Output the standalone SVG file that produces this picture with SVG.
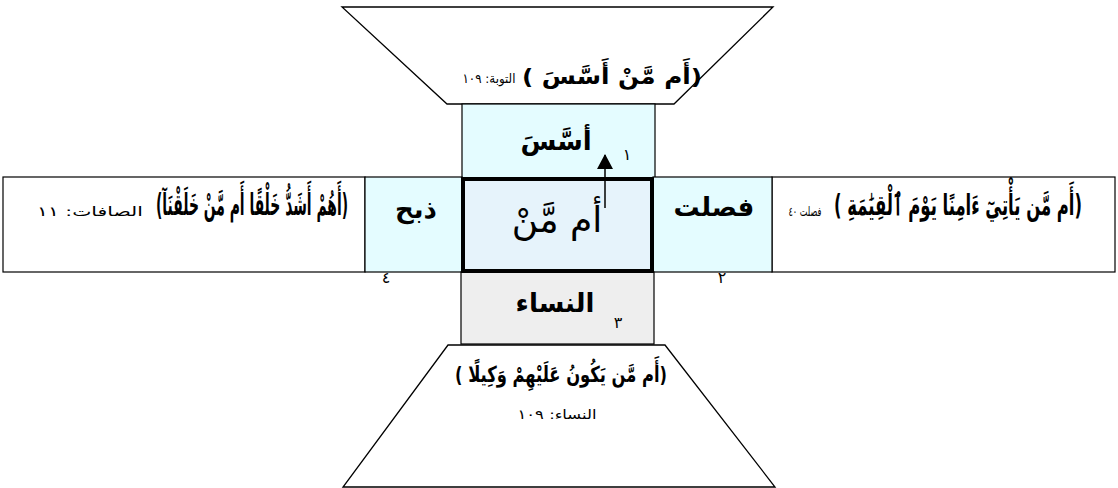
<svg xmlns="http://www.w3.org/2000/svg" width="1118" height="488" viewBox="0 0 1118 488">
<defs>
<marker id="ah" markerWidth="16" markerHeight="16" refX="14" refY="8" orient="auto" markerUnits="userSpaceOnUse" viewBox="0 0 16 16">
<path d="M0,0 L15,8 L0,16 Z" fill="#000"/>
</marker>
</defs>
<style>
.ar{font-family:"DejaVu Sans","Noto Sans",sans-serif;direction:rtl;text-anchor:middle;fill:#000}
.q{font-size:22px;font-weight:bold}
.s{font-size:13px}
.lbl{font-size:26px;font-weight:bold}
.num{font-size:16px}
.box{stroke:#000;stroke-width:1.2}
.trap{fill:#fff;stroke:#000;stroke-width:1.3}
</style>
<rect width="1118" height="488" fill="#fff"/>

<g id="top-trap">
<polygon class="trap" points="342,7 773,7 674,104 447,104"/>
<text class="ar q" x="612" y="84" textLength="180" lengthAdjust="spacingAndGlyphs">(أَم مَّنْ أَسَّسَ )</text>
<text class="ar s" x="489" y="83" textLength="53" lengthAdjust="spacingAndGlyphs">التوبة: ١٠٩</text>
</g>

<g id="left-verse">
<rect class="box" x="3" y="177" width="362" height="95" fill="#fff"/>
<text class="ar q" transform="translate(252,215) scale(1,1.35)" x="0" y="0" font-size="16" textLength="192" lengthAdjust="spacingAndGlyphs">(أَهُمْ أَشَدُّ خَلْقًا أَم مَّنْ خَلَقْنَآ)</text>
<text class="ar s" x="90" y="216" textLength="106" lengthAdjust="spacingAndGlyphs">الصافات: ١١</text>
</g>

<g id="right-verse">
<rect class="box" x="772" y="177" width="343" height="95" fill="#fff"/>
<text class="ar q" transform="translate(958,215) scale(1,1.3)" x="0" y="0" font-size="16" textLength="248" lengthAdjust="spacingAndGlyphs">(أَم مَّن يَأْتِيٓ ءَامِنًا يَوْمَ ٱلْقِيَٰمَةِ )</text>
<text class="ar s" x="805" y="216" textLength="33" lengthAdjust="spacingAndGlyphs">فصلت ٤٠</text>
</g>

<g id="box-assasa">
<rect class="box" x="462" y="104" width="193" height="74" fill="#E4FCFF"/>
<text class="ar lbl" x="556" y="150">أسَّسَ</text>
<text class="ar num" x="627" y="160">١</text>
</g>

<g id="box-dhabh">
<rect class="box" x="365" y="177" width="97" height="95" fill="#E4FCFF"/>
<text class="ar lbl" x="416" y="218">ذبح</text>
<text class="ar num" x="386" y="283">٤</text>
</g>

<g id="box-fussilat">
<rect class="box" x="653" y="177" width="119" height="95" fill="#E4FCFF"/>
<text class="ar lbl" x="714" y="216">فصلت</text>
<text class="ar num" x="722" y="283">٢</text>
</g>

<g id="box-nisa">
<rect class="box" x="461" y="272" width="193" height="72" fill="#EEEEEE"/>
<text class="ar lbl" x="555" y="312">النساء</text>
<text class="ar num" x="618" y="328">٣</text>
</g>

<g id="bottom-trap">
<polygon class="trap" points="448,345 665,345 775,487 343,487"/>
<text class="ar q" x="561" y="382" textLength="212" lengthAdjust="spacingAndGlyphs">(أَم مَّن يَكُونُ عَلَيْهِمْ وَكِيلًا )</text>
<text class="ar s" x="557" y="419" textLength="79" lengthAdjust="spacingAndGlyphs">النساء: ١٠٩</text>
</g>

<g id="center">
<rect x="463" y="179" width="189" height="92" fill="#E6F3FB" stroke="#000" stroke-width="4"/>
<text class="ar" x="557" y="232" font-size="36">أم مَّنْ</text>
</g>

<g id="connectors">
<line x1="605" y1="208" x2="605" y2="155" stroke="#000" stroke-width="1.5" marker-end="url(#ah)"/>
</g>
</svg>
